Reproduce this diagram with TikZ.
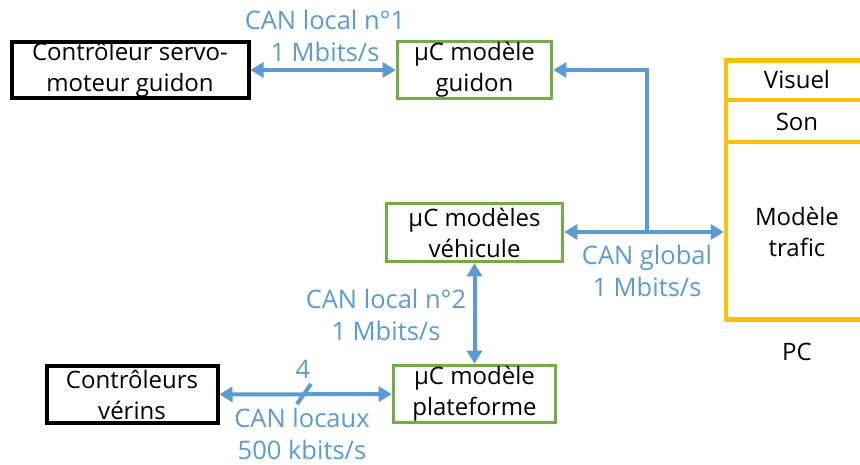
\documentclass[tikz,border=0pt]{standalone}
\usepackage{fontspec}
\setmainfont{Open Sans}
\usetikzlibrary{arrows.meta}
\definecolor{canblue}{RGB}{91,155,213}
\definecolor{boxgreen}{RGB}{112,173,71}
\definecolor{pcorange}{RGB}{255,192,0}
\begin{document}
\begin{tikzpicture}[x=1pt,y=-1pt,
  every node/.style={font=\fontsize{24}{31}\selectfont, align=center, inner sep=0pt},
  ctrl/.style={draw=black, line width=4pt, rectangle},
  mcu/.style={draw=boxgreen, line width=3.6pt, rectangle},
  lbl/.style={text=canblue, font=\fontsize{25.5}{32}\selectfont},
  bus/.style={draw=canblue, line width=4pt, {Triangle[length=13pt,width=15pt]}-{Triangle[length=13pt,width=15pt]}},
  bus1/.style={draw=canblue, line width=4pt, -{Triangle[length=13pt,width=15pt]}},
  pcline/.style={draw=pcorange, line width=4.5pt}]
\clip (0,0) rectangle (860,465);
\fill[white] (0,0) rectangle (860,465);
% boxes
\node[ctrl, minimum width=237pt, minimum height=56pt] (c1) at (130,70) {Contrôleur servo-\\moteur guidon};
\node[mcu, minimum width=154pt, minimum height=57pt] (g1) at (474.5,70) {µC modèle\\guidon};
\node[mcu, minimum width=176pt, minimum height=58pt] (v) at (474.5,232.5) {µC modèles\\véhicule};
\node[mcu, minimum width=162pt, minimum height=57pt] (p) at (474.5,394) {µC modèle\\plateforme};
\node[ctrl, minimum width=171pt, minimum height=57pt] (c2) at (132,394.5) {Contrôleurs\\vérins};
% PC
\node[pcline, rectangle, minimum width=200pt, minimum height=259pt] (pc) at (826,190) {};
\draw[pcline] (726,100) -- (870,100);
\draw[pcline] (726,142) -- (870,142);
\node (visuel) at (797,80) {Visuel};
\node (son) at (797,122) {Son};
\node (trafic) at (797,232) {Modèle\\trafic};
\node (pclbl) at (797,352) {PC};
% connectors
\draw[bus] (c1) -- (g1);
\coordinate (j) at (647,232);
\draw[bus1] (j) -- (v.east |- j);
\draw[bus1] (j) -- (pc.west |- j);
\draw[bus1] (j) |- (g1.east);
\draw[bus] (v) -- (p);
\draw[bus] (c2) -- (p);
\draw[draw=canblue, line width=4pt] (297,404) -- (311,384);
% labels
\node[lbl] (l1) at (325,36) {CAN local n°1\\1 Mbits/s};
\node[lbl] (l2) at (647,271) {CAN global\\1 Mbits/s};
\node[lbl] (l3) at (386,315) {CAN local n°2\\1 Mbits/s};
\node[lbl] (l4) at (303,369) {4};
\node[lbl] (l5) at (302,434) {CAN locaux\\500 kbits/s};
\end{tikzpicture}
\end{document}
